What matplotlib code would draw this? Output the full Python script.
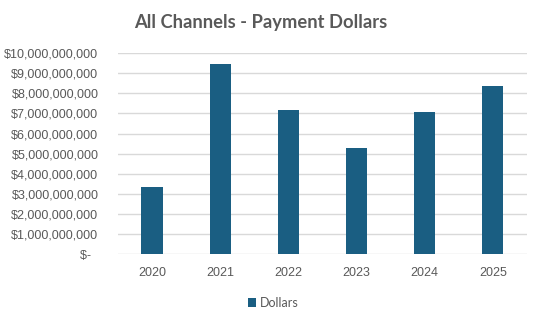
import matplotlib.pyplot as plt
from matplotlib.ticker import FuncFormatter

# Yearly payment dollars, all channels
years = ['2020', '2021', '2022', '2023', '2024', '2025']
dollars = [3.32e9, 9.45e9, 7.17e9, 5.29e9, 7.07e9, 8.37e9]

bar_color = '#1A5E82'
text_color = '#595959'
grid_color = '#D9D9D9'

fig = plt.figure(figsize=(5.41, 3.22), dpi=100)
ax = fig.add_axes([0.218, 0.211, 0.756, 0.624])

x = range(len(years))
ax.bar(x, dollars, width=0.31, color=bar_color, label='Dollars', zorder=3)

ax.set_xlim(-0.5, len(years) - 0.5)
ax.set_ylim(0, 10e9)
ax.set_yticks([i * 1e9 for i in range(11)])
ax.set_xticks(list(x))
ax.set_xticklabels(years)


def money(v, pos):
    if v == 0:
        return '$-  '
    return '${:,.0f}'.format(v)


ax.yaxis.set_major_formatter(FuncFormatter(money))
ax.grid(axis='y', color=grid_color, linewidth=1, zorder=0)
for s in ax.spines.values():
    s.set_visible(False)
ax.tick_params(axis='both', length=0, colors=text_color, labelsize=9)
ax.tick_params(axis='y', pad=14)
ax.tick_params(axis='x', pad=9)
for lbl in ax.get_xticklabels() + ax.get_yticklabels():
    lbl.set_family('Liberation Sans')

fig.text(0.482, 0.93, 'All Channels - Payment Dollars', ha='center', va='center',
         fontsize=13.2, fontweight='bold', color=text_color, family='Lato')

leg = fig.legend(loc='center', bbox_to_anchor=(0.505, 0.06), frameon=False,
                 handlelength=0.7, handleheight=0.7, handletextpad=0.3,
                 prop={'family': 'Lato', 'size': 9})
for t in leg.get_texts():
    t.set_color(text_color)

fig.savefig('out.png', dpi=100)
